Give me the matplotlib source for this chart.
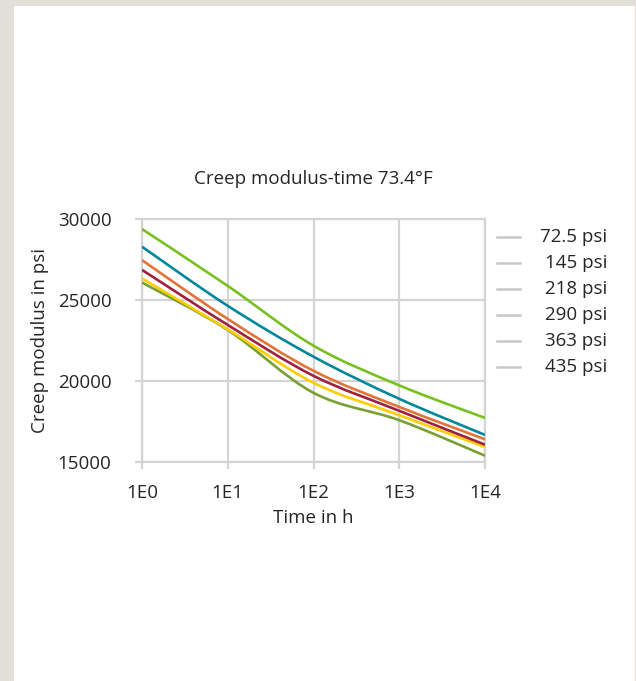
import numpy as np
import matplotlib
matplotlib.use("Agg")
import matplotlib.pyplot as plt
from matplotlib.path import Path
from matplotlib.patches import PathPatch, Rectangle
from matplotlib.lines import Line2D

# ---- data ----
time_h = [1, 10, 100, 1000, 10000]
series_labels = ["72.5 psi", "145 psi", "218 psi", "290 psi", "363 psi", "435 psi"]
mod_725 = [29380, 25870, 22180, 19730, 17720]
mod_145 = [28290, 24640, 21500, 18900, 16670]
mod_218 = [27460, 23830, 20630, 18400, 16400]
mod_290 = [26860, 23460, 20320, 18160, 16070]
mod_363 = [26330, 23190, 19890, 17890, 15930]
mod_435 = [26080, 23150, 19270, 17580, 15390]
series = [mod_725, mod_145, mod_218, mod_290, mod_363, mod_435]
colors = ["#78c01e", "#00889a", "#e27535", "#a0213e", "#fecd00", "#78a032"]
x_ticklabels = ["1E0", "1E1", "1E2", "1E3", "1E4"]
y_ticks = [15000, 20000, 25000, 30000]

FONT = "Open Sans"
plt.rcParams["font.family"] = [FONT, "DejaVu Sans"]
FS = 13.5
TXT = "#262626"

W, H = 636, 681
fig = plt.figure(figsize=(W / 100, H / 100), dpi=100)
fig.patch.set_facecolor("#e2dfd9")
fig.add_artist(Rectangle((14 / W, 0), (635 - 14) / W, 1 - 6 / H,
                         transform=fig.transFigure, facecolor="white",
                         edgecolor="none", zorder=0))

left, right, bottom, top = 142 / W, 485 / W, 1 - 462 / H, 1 - 219 / H
ax = fig.add_axes([left, bottom, right - left, top - bottom])
ax.set_facecolor("none")
ax.set_xscale("log")
ax.set_xlim(1, 10000)
ax.set_ylim(15000, 30000)

grid_c = "#d4d4d4"
ax.grid(True, color=grid_c, linewidth=1.6)
ax.set_axisbelow(True)
for s in ax.spines.values():
    s.set_color(grid_c)
    s.set_linewidth(1.6)
ax.set_xticks(time_h)
ax.set_xticklabels(x_ticklabels)
ax.xaxis.set_minor_locator(matplotlib.ticker.NullLocator())
ax.set_yticks(y_ticks)
ax.set_yticklabels([str(v) for v in y_ticks])
ax.tick_params(axis="both", color=grid_c, width=1.6, length=5,
               labelsize=FS, labelcolor=TXT)
ax.tick_params(axis="y", pad=17)
ax.tick_params(axis="x", pad=11)


def smooth_path(xs, ys):
    u = np.log10(np.asarray(xs, float))
    v = np.asarray(ys, float)
    n = len(u)
    verts = [(10 ** u[0], v[0])]
    codes = [Path.MOVETO]
    for i in range(n - 1):
        p0 = (u[max(i - 1, 0)], v[max(i - 1, 0)])
        p1 = (u[i], v[i])
        p2 = (u[i + 1], v[i + 1])
        p3 = (u[min(i + 2, n - 1)], v[min(i + 2, n - 1)])
        t = 1 / 6
        c1 = (p1[0] + (p2[0] - p0[0]) * t, p1[1] + (p2[1] - p0[1]) * t)
        c2 = (p2[0] - (p3[0] - p1[0]) * t, p2[1] - (p3[1] - p1[1]) * t)
        verts += [(10 ** c1[0], c1[1]), (10 ** c2[0], c2[1]), (10 ** p2[0], p2[1])]
        codes += [Path.CURVE4] * 3
    return Path(verts, codes)


for vals, c in zip(reversed(series), reversed(colors)):
    ax.add_patch(PathPatch(smooth_path(time_h, vals), facecolor="none",
                           edgecolor=c, linewidth=1.9, zorder=3,
                           capstyle="butt", joinstyle="round"))

ax.set_title("Creep modulus-time 73.4°F", fontsize=FS, color=TXT, pad=25)
ax.set_xlabel("Time in h", fontsize=FS, color=TXT, labelpad=5)
ax.set_ylabel("Creep modulus in psi", fontsize=FS, color=TXT, labelpad=6)

# legend (grey markers, right-aligned text)
y0 = 237
for i, lab in enumerate(series_labels):
    yy = 1 - (y0 + i * 26) / H
    fig.add_artist(Line2D([497 / W, 520 / W], [yy, yy], transform=fig.transFigure,
                          color="#c8c8c8", linewidth=1.8))
    fig.text(607 / W, yy, lab, ha="right", va="center", fontsize=FS, color=TXT)

fig.savefig("out.png", dpi=100, facecolor=fig.get_facecolor())
